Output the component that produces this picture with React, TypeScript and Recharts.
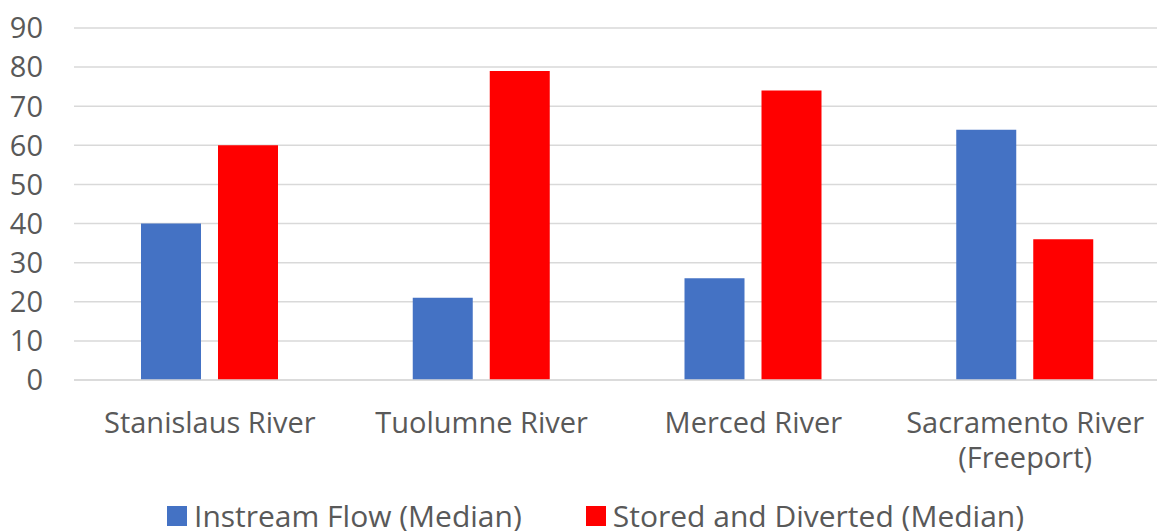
import React from "react";
import { BarChart, Bar, XAxis, YAxis, CartesianGrid, Legend } from "recharts";

const categories = [
  "Stanislaus River",
  "Tuolumne River",
  "Merced River",
  "Sacramento River\n(Freeport)",
];
const instreamFlow = [40, 21, 26, 64];
const storedDiverted = [60, 79, 74, 36];
const yTicks = [0, 10, 20, 30, 40, 50, 60, 70, 80, 90];

const seriesNames = ["Instream Flow (Median)", "Stored and Diverted (Median)"];
const seriesColors = ["#4472C4", "#FF0000"];

const data = categories.map((name, i) => ({
  name,
  instream: instreamFlow[i],
  stored: storedDiverted[i],
}));

const FONT = "'Open Sans', sans-serif";
const TEXT = "#595959";

const CategoryTick = (props: any) => {
  const { x, y, payload } = props;
  const lines = String(payload.value).split("\n");
  return (
    <text
      x={x}
      y={y}
      textAnchor="middle"
      fill={TEXT}
      fontFamily={FONT}
      fontSize={29}
    >
      {lines.map((line, i) => (
        <tspan key={i} x={x} dy={i === 0 ? 45 : 35}>
          {line}
        </tspan>
      ))}
    </text>
  );
};

const LegendContent = () => (
  <div
    style={{
      display: "flex",
      alignItems: "center",
      paddingLeft: 167,
      marginTop: 5,
      fontFamily: FONT,
      fontSize: 30,
      color: TEXT,
      lineHeight: "40px",
      whiteSpace: "nowrap",
    }}
  >
    {seriesNames.map((n, i) => (
      <div
        key={n}
        style={{ display: "flex", alignItems: "center", marginRight: 64 }}
      >
        <span
          style={{
            display: "inline-block",
            width: 20,
            height: 20,
            background: seriesColors[i],
            marginRight: 7,
          }}
        />
        <span>{n}</span>
      </div>
    ))}
  </div>
);

export default function App() {
  return (
    <div
      style={{
        position: "absolute",
        left: 0,
        top: 0,
        width: 1157,
        height: 531,
        overflow: "hidden",
        background: "#fff",
      }}
    >
      <BarChart
        width={1170}
        height={531}
        data={data}
        margin={{ top: 28, right: 9, bottom: 0, left: 14 }}
        barSize={60}
        barGap={17}
      >
        <CartesianGrid vertical={false} stroke="#d9d9d9" strokeWidth={1.5} />
        <XAxis
          dataKey="name"
          height={111}
          interval={0}
          tickLine={false}
          axisLine={{ stroke: "#d9d9d9", strokeWidth: 1.5 }}
          tick={<CategoryTick />}
        />
        <YAxis
          width={60}
          domain={[0, 90]}
          ticks={yTicks}
          interval={0}
          tickLine={false}
          axisLine={false}
          tickMargin={25}
          tick={{ fill: TEXT, fontFamily: FONT, fontSize: 29 }}
        />
        <Legend
          verticalAlign="bottom"
          align="left"
          height={40}
          wrapperStyle={{ left: 0, width: 1157 }}
          content={<LegendContent />}
        />
        <Bar
          dataKey="instream"
          name={seriesNames[0]}
          fill={seriesColors[0]}
          isAnimationActive={false}
        />
        <Bar
          dataKey="stored"
          name={seriesNames[1]}
          fill={seriesColors[1]}
          isAnimationActive={false}
        />
      </BarChart>
    </div>
  );
}
